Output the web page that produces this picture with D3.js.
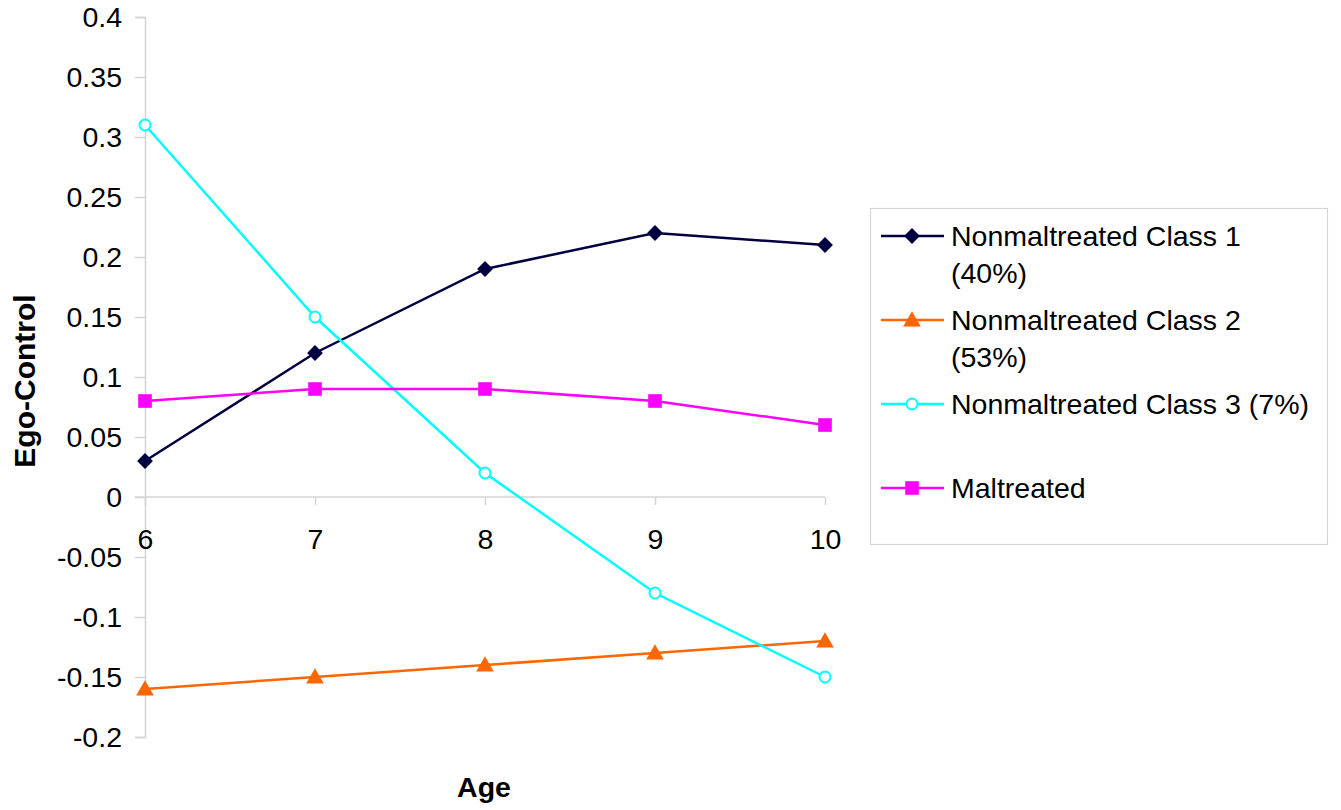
<!DOCTYPE html>
<html>
<head>
<meta charset="utf-8">
<script src="https://cdn.jsdelivr.net/npm/d3@7"></script>
<style>
  html, body { margin: 0; padding: 0; background: #fff; }
  svg { display: block; font-family: "Liberation Sans", Arial, sans-serif; }
</style>
</head>
<body>
<svg id="chart" width="1341" height="810"></svg>
<script>
const ages = [6, 7, 8, 9, 10];
const yTicks = [0.4, 0.35, 0.3, 0.25, 0.2, 0.15, 0.1, 0.05, 0, -0.05, -0.1, -0.15, -0.2];
const class1 = [0.03, 0.12, 0.19, 0.22, 0.21];
const class2 = [-0.16, -0.15, -0.14, -0.13, -0.12];
const class3 = [0.31, 0.15, 0.02, -0.08, -0.15];
const maltreated = [0.08, 0.09, 0.09, 0.08, 0.06];
const seriesNames = [
  ["Nonmaltreated Class 1", "(40%)"],
  ["Nonmaltreated Class 2", "(53%)"],
  ["Nonmaltreated Class 3 (7%)"],
  ["Maltreated"]
];
const seriesColors = ["#000040", "#ff6600", "#00ffff", "#ff00ff"];
const seriesSymbols = ["diamond", "triangle", "circle", "square"];
const seriesValues = [class1, class2, class3, maltreated];

const svg = d3.select("#chart");
const fs = 28.5;
const x = d3.scaleLinear().domain([6, 10]).range([145, 825]);
const y = d3.scaleLinear().domain([-0.2, 0.4]).range([737, 17]);
const axisColor = "#d4d4d4";

// Y axis
const yAxis = svg.append("g").attr("transform", `translate(${x(6)},0)`)
  .call(d3.axisLeft(y).tickValues(yTicks).tickSize(10).tickPadding(13)
    .tickFormat(d => String(+d.toFixed(2))));
yAxis.select(".domain").attr("stroke", axisColor).attr("stroke-width", 1.5);
yAxis.selectAll(".tick line").attr("stroke", axisColor).attr("stroke-width", 1.5);
yAxis.selectAll(".tick text").attr("font-size", fs).attr("fill", "#000")
  .attr("font-family", "Liberation Sans, Arial, sans-serif");

// X axis at zero
const xAxis = svg.append("g").attr("transform", `translate(0,${y(0)})`)
  .call(d3.axisBottom(x).tickValues(ages).tickSize(8).tickSizeOuter(0).tickPadding(24)
    .tickFormat(d => String(d)));
xAxis.select(".domain").attr("stroke", axisColor).attr("stroke-width", 1.5)
  .attr("d", `M${x(6) - 10},0H${x(10)}`);
xAxis.selectAll(".tick line").attr("stroke", axisColor).attr("stroke-width", 1.5);
xAxis.selectAll(".tick text").attr("font-size", fs).attr("fill", "#000")
  .attr("font-family", "Liberation Sans, Arial, sans-serif");

// Axis titles
svg.append("text").attr("x", 484).attr("y", 797).attr("text-anchor", "middle")
  .attr("font-size", fs).attr("font-weight", "bold").text("Age");
svg.append("text").attr("transform", `translate(35,${(17 + 737) / 2 + 4}) rotate(-90)`)
  .attr("text-anchor", "middle").attr("font-size", 30).attr("font-weight", "bold").text("Ego-Control");

function symbolFor(name) {
  if (name === "diamond") return d3.symbol().type(d3.symbolSquare).size(125)();
  if (name === "triangle") return d3.symbol().type(d3.symbolTriangle).size(135)();
  if (name === "square") return d3.symbol().type(d3.symbolSquare).size(185)();
  return null;
}

function drawMarker(g, sym, color, cx, cy) {
  if (sym === "circle") {
    g.append("circle").attr("cx", cx).attr("cy", cy).attr("r", 5.5)
      .attr("fill", "#fff").attr("stroke", color).attr("stroke-width", 2);
  } else {
    let tr = `translate(${cx},${cy})`;
    if (sym === "diamond") tr += " rotate(45)";
    if (sym === "triangle") tr = `translate(${cx},${cy + 1.5})`;
    g.append("path").attr("d", symbolFor(sym)).attr("transform", tr).attr("fill", color);
  }
}

const line = d3.line().x((d, i) => x(ages[i])).y(d => y(d));
seriesValues.forEach((vals, si) => {
  const g = svg.append("g");
  g.append("path").datum(vals).attr("d", line).attr("fill", "none")
    .attr("stroke", seriesColors[si]).attr("stroke-width", 2.5);
  vals.forEach((v, i) => drawMarker(g, seriesSymbols[si], seriesColors[si], x(ages[i]), y(v)));
});

// Legend
const lg = svg.append("g");
lg.append("rect").attr("x", 870.5).attr("y", 208.5).attr("width", 457).attr("height", 336)
  .attr("fill", "#fff").attr("stroke", "#d4d4d4").attr("stroke-width", 1.2);
const rowY = [236, 320, 404, 488];
seriesNames.forEach((lines, si) => {
  const cy = rowY[si];
  lg.append("line").attr("x1", 881).attr("x2", 944).attr("y1", cy).attr("y2", cy)
    .attr("stroke", seriesColors[si]).attr("stroke-width", 2.5);
  drawMarker(lg, seriesSymbols[si], seriesColors[si], 912, cy);
  lines.forEach((t, li) => {
    lg.append("text").attr("x", 951).attr("y", cy + 10 + li * 37)
      .attr("font-size", fs).attr("fill", "#000").text(t);
  });
});
</script>
</body>
</html>
